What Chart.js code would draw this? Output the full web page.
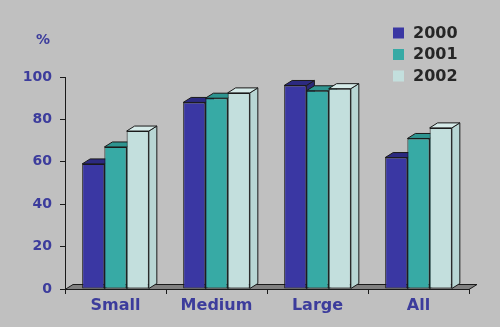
<!DOCTYPE html>
<html>
<head>
<meta charset="utf-8">
<script src="https://cdn.jsdelivr.net/npm/chart.js@4"></script>
<style>
  html, body { margin: 0; padding: 0; background: #c0c0c0; }
  #wrap { width: 500px; height: 327px; }
</style>
</head>
<body>
<div id="wrap"><canvas id="barChart" width="500" height="327"></canvas></div>
<script>
// données
const categories = ['Small', 'Medium', 'Large', 'All'];
const years = ['2000', '2001', '2002'];
const values2000 = [59, 88, 96, 62];
const values2001 = [67, 90, 93.5, 71];
const values2002 = [74.5, 92.5, 94.5, 76];

// couleurs : face avant, dessus, côté
const fronts = ['#3a37a3', '#37aaa5', '#c3dfdd'];
const tops = ['#2c2a80', '#2e9590', '#d6ebe9'];
const sides = ['#2a2878', '#2b8a85', '#b8d6d4'];

const labelBlue = '#3c3c9c';
const DX = 8, DY = 5;

// sol et faces 3D (dessus + côté) dessinés avant les faces avant
const depthPlugin = {
    id: 'depth',
    beforeDatasetsDraw(chart) {
        const ctx = chart.ctx;
        const area = chart.chartArea;
        ctx.save();
        ctx.lineWidth = 1;
        ctx.strokeStyle = '#1a1a1a';

        // le sol
        ctx.beginPath();
        ctx.moveTo(area.left, area.bottom + 0.5);
        ctx.lineTo(area.right, area.bottom + 0.5);
        ctx.lineTo(area.right + DX, area.bottom - DY + 0.5);
        ctx.lineTo(area.left + DX, area.bottom - DY + 0.5);
        ctx.closePath();
        ctx.fillStyle = '#808080';
        ctx.fill();
        ctx.stroke();

        // faces des barres, catégorie par catégorie
        categories.forEach((c, i) => {
            chart.data.datasets.forEach((ds, d) => {
                const bar = chart.getDatasetMeta(d).data[i];
                const L = bar.x - bar.width / 2;
                const R = bar.x + bar.width / 2;
                const T = bar.y;
                const B = bar.base;

                ctx.beginPath();
                ctx.moveTo(R, T);
                ctx.lineTo(R + DX, T - DY);
                ctx.lineTo(R + DX, B - DY);
                ctx.lineTo(R, B);
                ctx.closePath();
                ctx.fillStyle = sides[d];
                ctx.fill();
                ctx.stroke();

                ctx.beginPath();
                ctx.moveTo(L, T);
                ctx.lineTo(R, T);
                ctx.lineTo(R + DX, T - DY);
                ctx.lineTo(L + DX, T - DY);
                ctx.closePath();
                ctx.fillStyle = tops[d];
                ctx.fill();
                ctx.stroke();
            });
        });
        ctx.restore();
    },
    afterDraw(chart) {
        const ctx = chart.ctx;
        ctx.save();
        // le "%" au-dessus de l'axe
        ctx.font = 'bold 14px "DejaVu Sans"';
        ctx.fillStyle = labelBlue;
        ctx.textAlign = 'center';
        ctx.textBaseline = 'middle';
        ctx.fillText('%', 43, 40);

        // la légende
        const rows = [32.5, 54, 75.5];
        chart.data.datasets.forEach((ds, d) => {
            ctx.fillStyle = ds.backgroundColor;
            ctx.fillRect(393, rows[d] - 5, 11, 11);
            ctx.fillStyle = '#262626';
            ctx.font = 'bold 16px "DejaVu Sans"';
            ctx.textAlign = 'left';
            ctx.fillText(ds.label, 413, rows[d] + 1);
        });
        ctx.restore();
    }
};

const ctx = document.getElementById('barChart').getContext('2d');
const barChart = new Chart(ctx, {
    type: 'bar',
    data: {
        labels: categories,
        datasets: [values2000, values2001, values2002].map((vals, d) => ({
            label: years[d],
            data: vals,
            backgroundColor: fronts[d],
            borderColor: '#1a1a1a',
            borderWidth: 1,
            borderSkipped: false,
            categoryPercentage: 0.66,
            barPercentage: 1.0
        }))
    },
    options: {
        responsive: false,
        animation: false,
        layout: { padding: { left: 0, top: 77, right: 31, bottom: 0 } },
        plugins: {
            legend: { display: false },
            tooltip: { enabled: false }
        },
        scales: {
            x: {
                afterFit(scale) { scale.height = 38; },
                grid: {
                    offset: true,
                    drawOnChartArea: false,
                    tickLength: 5,
                    color: '#1a1a1a'
                },
                border: { color: '#1a1a1a' },
                ticks: {
                    color: labelBlue,
                    font: { family: 'DejaVu Sans', size: 16, weight: 'bold' },
                    padding: 2
                }
            },
            y: {
                min: 0,
                max: 100,
                afterFit(scale) { scale.width = 65; },
                grid: {
                    drawOnChartArea: false,
                    tickLength: 5,
                    color: '#1a1a1a'
                },
                border: { color: '#1a1a1a' },
                ticks: {
                    stepSize: 20,
                    color: labelBlue,
                    font: { family: 'DejaVu Sans', size: 14, weight: 'bold' },
                    padding: 8
                }
            }
        }
    },
    plugins: [depthPlugin]
});
</script>
</body>
</html>
